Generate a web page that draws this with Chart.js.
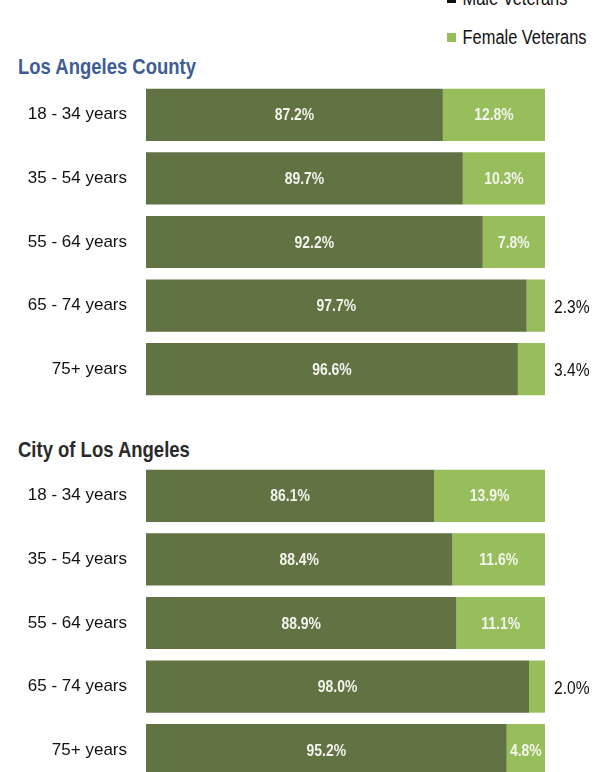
<!DOCTYPE html>
<html lang="en">
<head>
    <meta charset="UTF-8">
    <title>Veterans by Gender and Age</title>
    <script src="https://cdn.jsdelivr.net/npm/chart.js"></script>
    <style>
        body {
            margin: 0;
            width: 600px;
            height: 772px;
            overflow: hidden;
            background: #fff;
            position: relative;
            font-family: 'Liberation Sans', Arial, sans-serif;
        }
        .legend-item {
            position: absolute;
            left: 447px;
            font-size: 20px;
            color: #111;
            white-space: nowrap;
            line-height: 20px;
            transform: scaleX(0.82);
            transform-origin: left center;
        }
        .legend-item span {
            display: inline-block;
            width: 11px;
            height: 9px;
            margin-right: 8px;
            vertical-align: 2px;
        }
        .section-title {
            position: absolute;
            left: 18px;
            font-weight: bold;
            font-size: 22px;
            line-height: 24px;
            white-space: nowrap;
            transform: scaleX(0.84);
            transform-origin: left center;
        }
        canvas {
            position: absolute;
            left: 0;
        }
    </style>
</head>
<body>
    <div class="legend-item" style="top:-12px"><span style="background:#111"></span>Male Veterans</div>
    <div class="legend-item" style="top:27px"><span style="background:#98be5c"></span>Female Veterans</div>

    <div class="section-title" style="top:55px; color:#3d5d95">Los Angeles County</div>
    <canvas id="countyChart" width="600" height="318" style="top:83px"></canvas>

    <div class="section-title" style="top:438px; color:#2a2a2a">City of Los Angeles</div>
    <canvas id="cityChart" width="600" height="318" style="top:464px"></canvas>

    <script>
    // values (percent of veterans in each age group)
    const ageGroups = ['18 - 34 years', '35 - 54 years', '55 - 64 years', '65 - 74 years', '75+ years'];
    const countyMale = [87.2, 89.7, 92.2, 97.7, 96.6];
    const countyFemale = [12.8, 10.3, 7.8, 2.3, 3.4];
    const cityMale = [86.1, 88.4, 88.9, 98.0, 95.2];
    const cityFemale = [13.9, 11.6, 11.1, 2.0, 4.8];

    // the original bars start at 50%, not 0
    const axisMin = 50;
    const axisMax = 100;

    const maleColor = '#617243';
    const femaleColor = '#98be5c';

    // narrow-looking text: draw squeezed horizontally
    function squeezedText(ctx, txt, x, y) {
        ctx.save();
        ctx.translate(x, y);
        ctx.scale(0.82, 1);
        ctx.fillText(txt, 0, 0);
        ctx.restore();
    }

    // % labels: inside the bar when it fits, beside it otherwise
    const valueLabels = {
        id: 'valueLabels',
        afterDatasetsDraw(chart) {
            const ctx = chart.ctx;
            const area = chart.chartArea;
            ctx.save();
            ctx.textBaseline = 'middle';
            chart.data.datasets.forEach((ds, i) => {
                chart.getDatasetMeta(i).data.forEach((bar, j) => {
                    const v = ds.data[j];
                    const txt = v.toFixed(1) + '%';
                    if (v >= 4) {
                        const left = Math.max(bar.base, area.left);
                        ctx.font = 'bold 17px "Liberation Sans", Arial, sans-serif';
                        ctx.fillStyle = '#f4f4ee';
                        ctx.textAlign = 'center';
                        squeezedText(ctx, txt, (left + bar.x) / 2, bar.y + 1);
                    } else {
                        ctx.font = '19px "Liberation Sans", Arial, sans-serif';
                        ctx.fillStyle = '#111';
                        ctx.textAlign = 'left';
                        squeezedText(ctx, txt, area.right + 9, bar.y + 2);
                    }
                });
            });
            ctx.restore();
        }
    };

    function makeChart(id, male, female) {
        const ctx = document.getElementById(id).getContext('2d');
        return new Chart(ctx, {
            type: 'bar',
            data: {
                labels: ageGroups,
                datasets: [
                    { label: 'Male Veterans', data: male, backgroundColor: maleColor },
                    { label: 'Female Veterans', data: female, backgroundColor: femaleColor }
                ]
            },
            options: {
                indexAxis: 'y',
                responsive: false,
                animation: false,
                layout: { padding: { left: 0, right: 55, top: 0, bottom: 0 } },
                datasets: { bar: { barPercentage: 0.82, categoryPercentage: 1 } },
                plugins: { legend: { display: false }, tooltip: { enabled: false } },
                scales: {
                    x: { stacked: true, min: axisMin, max: axisMax, display: false },
                    y: {
                        stacked: true,
                        grid: { display: false, drawTicks: false },
                        border: { display: false },
                        ticks: {
                            padding: 19,
                            color: '#111',
                            font: { family: '"Liberation Sans", Arial, sans-serif', size: 17 }
                        },
                        afterFit(scale) {
                            scale.width = 146;
                            scale.paddingTop = 0;
                            scale.paddingBottom = 0;
                        }
                    }
                }
            },
            plugins: [valueLabels]
        });
    }

    makeChart('countyChart', countyMale, countyFemale);
    makeChart('cityChart', cityMale, cityFemale);
    </script>
</body>
</html>
